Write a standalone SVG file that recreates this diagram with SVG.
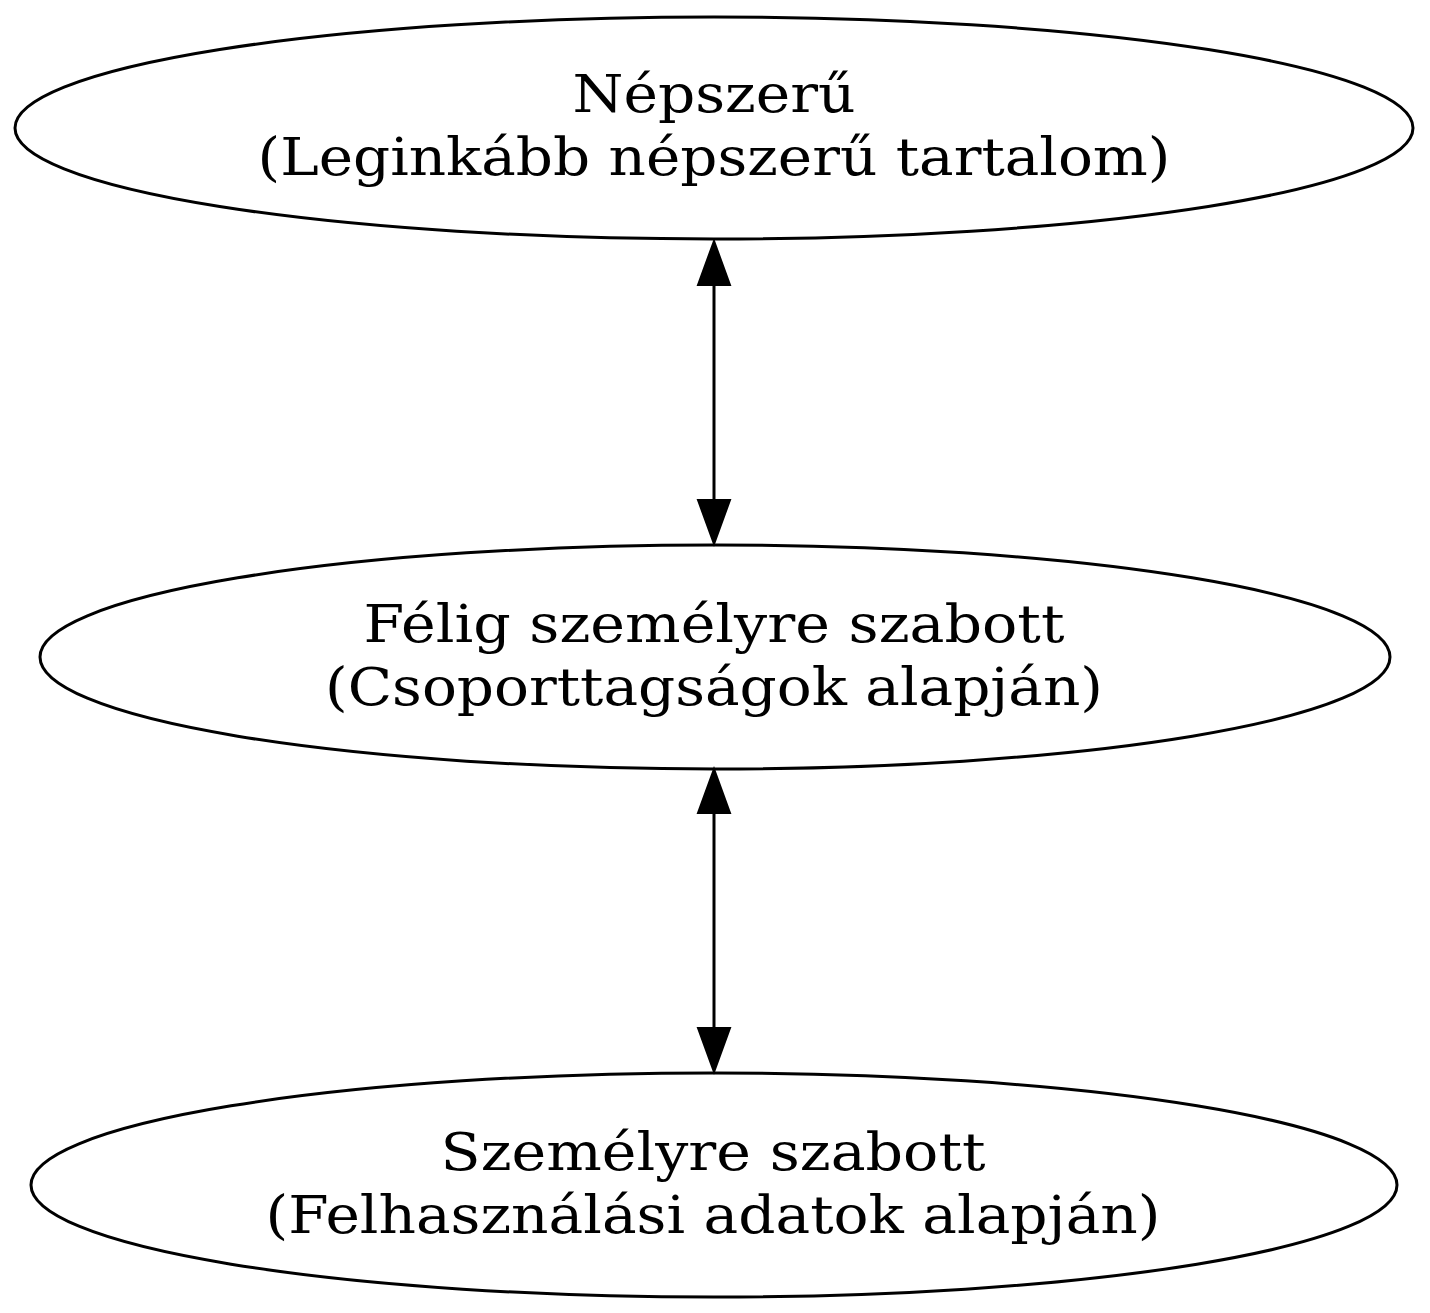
<svg xmlns="http://www.w3.org/2000/svg" width="1430" height="1313" viewBox="0 0 1430 1313">
<style>
.node ellipse{fill:none;stroke:#000;stroke-width:3}
.node text{font-family:"DejaVu Serif","Liberation Serif",serif;font-size:53px;text-anchor:middle;fill:#000}
.edge line{stroke:#000;stroke-width:3}
.edge polygon{fill:#000;stroke:#000;stroke-width:2}
</style>
<rect width="1430" height="1313" fill="#fff"/>
<g id="edges">
<g class="edge" id="e1">
<line x1="714" y1="282" x2="714" y2="503"/>
<polygon points="714,241 698,285 730,285"/>
<polygon points="714,544 698,500 730,500"/>
</g>
<g class="edge" id="e2">
<line x1="714" y1="810" x2="714" y2="1031"/>
<polygon points="714,769 698,813 730,813"/>
<polygon points="714,1072 698,1028 730,1028"/>
</g>
</g>
<g class="node" id="n1">
<ellipse cx="714" cy="128" rx="699" ry="111"/>
<text x="714" y="112" textLength="283" lengthAdjust="spacingAndGlyphs">Népszerű</text>
<text x="714" y="175" textLength="913" lengthAdjust="spacingAndGlyphs">(Leginkább népszerű tartalom)</text>
</g>
<g class="node" id="n2">
<ellipse cx="715" cy="657" rx="675" ry="112"/>
<text x="714" y="642" textLength="701" lengthAdjust="spacingAndGlyphs">Félig személyre szabott</text>
<text x="714" y="705" textLength="778" lengthAdjust="spacingAndGlyphs">(Csoporttagságok alapján)</text>
</g>
<g class="node" id="n3">
<ellipse cx="714" cy="1185" rx="683" ry="112"/>
<text x="713" y="1170" textLength="545" lengthAdjust="spacingAndGlyphs">Személyre szabott</text>
<text x="713" y="1233" textLength="895" lengthAdjust="spacingAndGlyphs">(Felhasználási adatok alapján)</text>
</g>
</svg>
